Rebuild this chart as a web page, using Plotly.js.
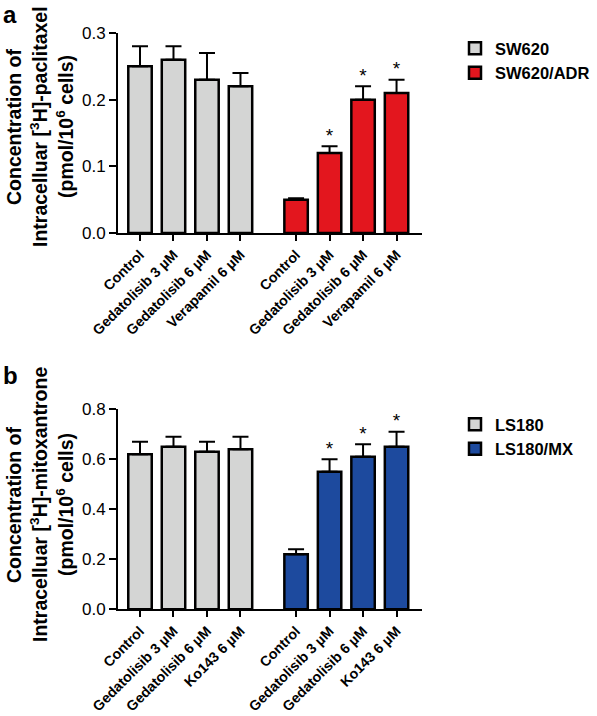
<!DOCTYPE html>
<html><head><meta charset="utf-8">
<script src="https://cdn.plot.ly/plotly-3.0.1.min.js"></script>
<style>html,body{margin:0;padding:0;background:#fff}</style>
</head><body><div id="chart" style="width:597px;height:716px"></div>
<script>
// ---- data ----
const treatmentsA = ["Control", "Gedatolisib 3 µM", "Gedatolisib 6 µM", "Verapamil 6 µM"];
const treatmentsB = ["Control", "Gedatolisib 3 µM", "Gedatolisib 6 µM", "Ko143 6 µM"];
const seriesA = ["SW620", "SW620/ADR"];
const seriesB = ["LS180", "LS180/MX"];
const sw620 = [0.25, 0.26, 0.23, 0.22];
const sw620Err = [0.03, 0.02, 0.04, 0.02];
const sw620adr = [0.05, 0.12, 0.20, 0.21];
const sw620adrErr = [0.002, 0.01, 0.02, 0.02];
const sw620adrSig = [false, true, true, true];
const ls180 = [0.62, 0.65, 0.63, 0.64];
const ls180Err = [0.05, 0.04, 0.04, 0.05];
const ls180mx = [0.22, 0.55, 0.61, 0.65];
const ls180mxErr = [0.02, 0.05, 0.05, 0.06];
const ls180mxSig = [false, true, true, true];
const yTicksA = [0, 0.1, 0.2, 0.3];
const yTicksB = [0, 0.2, 0.4, 0.6, 0.8];

// ---- styling ----
const FONT = "Liberation Sans, Arial, Helvetica, sans-serif";
const GRAY = "#d4d5d4", RED = "#e3161e", BLUE = "#1d4a9e";
const GROUP_GAP = 0.66;
const pos = (g, n) => Array.from({length: n}, (_, i) => g * (n + GROUP_GAP) + i);

function panel(labels, base, baseErr, res, resErr, sig, names, color, xa, ya, leg) {
  const n = labels.length;
  const x0 = pos(0, n), x1 = pos(1, n);
  const zeros = new Array(n).fill(0);
  const common = {type: "bar", width: 0.7, xaxis: xa, yaxis: ya, legend: leg, hoverinfo: "skip"};
  const sx = [], sy = [], st = [];
  sig.forEach((s, i) => { if (s) { sx.push(x1[i]); sy.push(res[i] + resErr[i]); st.push("*"); } });
  return [
    Object.assign({}, common, {
      name: names[0], x: x0, y: base,
      marker: {color: GRAY, line: {color: "#000", width: 2.5}},
      error_y: {type: "data", symmetric: false, array: baseErr, arrayminus: zeros, color: "#000", thickness: 2, width: 8}
    }),
    Object.assign({}, common, {
      name: names[1], x: x1, y: res,
      marker: {color: color, line: {color: "#000", width: 2.5}},
      error_y: {type: "data", symmetric: false, array: resErr, arrayminus: zeros, color: "#000", thickness: 2, width: 8}
    }),
    {
      type: "scatter", mode: "text", x: sx, y: sy, text: st, textposition: "top center",
      textfont: {family: FONT, size: 19, color: "#000"},
      xaxis: xa, yaxis: ya, showlegend: false, hoverinfo: "skip", cliponaxis: false
    }
  ];
}

const data = [].concat(
  panel(treatmentsA, sw620, sw620Err, sw620adr, sw620adrErr, sw620adrSig, seriesA, RED, "x", "y", "legend"),
  panel(treatmentsB, ls180, ls180Err, ls180mx, ls180mxErr, ls180mxSig, seriesB, BLUE, "x2", "y2", "legend2")
);

const W = 597, H = 716;
const px = v => v / W, py = v => 1 - v / H;
const xDomain = [px(118), px(422)];

function xAxis(labels, anchor) {
  const n = labels.length;
  return {
    domain: xDomain, anchor: anchor, range: [-0.657, 8.42],
    tickmode: "array", tickvals: pos(0, n).concat(pos(1, n)), ticktext: labels.concat(labels),
    tickangle: -45, ticks: "outside", ticklen: 6, tickwidth: 2, tickcolor: "#000",
    showline: true, linewidth: 2, linecolor: "#000", showgrid: false, zeroline: false,
    tickfont: {family: FONT, size: 14.2, color: "#000", weight: "bold"}, automargin: false, fixedrange: true
  };
}
function yAxis(domain, range, ticks, anchor) {
  return {
    domain: domain, anchor: anchor, range: range, tickmode: "array", tickvals: ticks, tickformat: ".1f",
    ticks: "outside", ticklen: 7, tickwidth: 2, tickcolor: "#000",
    showline: true, linewidth: 2, linecolor: "#000", showgrid: false, zeroline: false,
    tickfont: {family: FONT, size: 17, color: "#000"}, automargin: false, fixedrange: true
  };
}

const titleFont = {family: FONT, size: 19.5, color: "#000", weight: "bold"};
function yTitle(lines, cy, xs) {
  return lines.map((t, i) => ({
    text: t, textangle: -90, xref: "paper", yref: "paper", x: px(xs[i]), y: py(cy),
    xanchor: "center", yanchor: "middle", showarrow: false, font: titleFont
  }));
}

const layout = {
  width: W, height: H, margin: {l: 0, r: 0, t: 0, b: 0},
  paper_bgcolor: "#fff", plot_bgcolor: "rgba(0,0,0,0)", bargap: 0, barmode: "overlay",
  font: {family: FONT, color: "#000"},
  xaxis: xAxis(treatmentsA, "y"),
  yaxis: yAxis([py(233), py(33)], [0, 0.3], yTicksA, "x"),
  xaxis2: xAxis(treatmentsB, "y2"),
  yaxis2: yAxis([py(609.3), py(409.3)], [0, 0.8], yTicksB, "x2"),
  legend: {x: px(455), y: py(31), xanchor: "left", yanchor: "top", bgcolor: "rgba(0,0,0,0)",
           font: {family: FONT, size: 16.5, color: "#000", weight: "bold"}},
  legend2: {x: px(455), y: py(407), xanchor: "left", yanchor: "top", bgcolor: "rgba(0,0,0,0)",
           font: {family: FONT, size: 16.5, color: "#000", weight: "bold"}},
  annotations: [
    {text: "a", xref: "paper", yref: "paper", x: px(2), y: py(0), xanchor: "left", yanchor: "top", showarrow: false,
     borderpad: 0, font: {family: FONT, size: 24, color: "#000", weight: "bold"}},
    {text: "b", xref: "paper", yref: "paper", x: px(2), y: py(361), xanchor: "left", yanchor: "top", showarrow: false,
     borderpad: 0, font: {family: FONT, size: 24, color: "#000", weight: "bold"}}
  ].concat(
    yTitle(["Concentration of", "Intracelluar [<sup>3</sup>H]-paclitaxel", "(pmol/10<sup>6</sup> cells)"], 127, [14, 39, 65]),
    yTitle(["Concentration of", "Intracelluar [<sup>3</sup>H]-mitoxantrone", "(pmol/10<sup>6</sup> cells)"], 505, [14, 39, 65])
  ),
  showlegend: true
};

Plotly.newPlot("chart", data, layout, {staticPlot: true, displayModeBar: false});
</script></body></html>
